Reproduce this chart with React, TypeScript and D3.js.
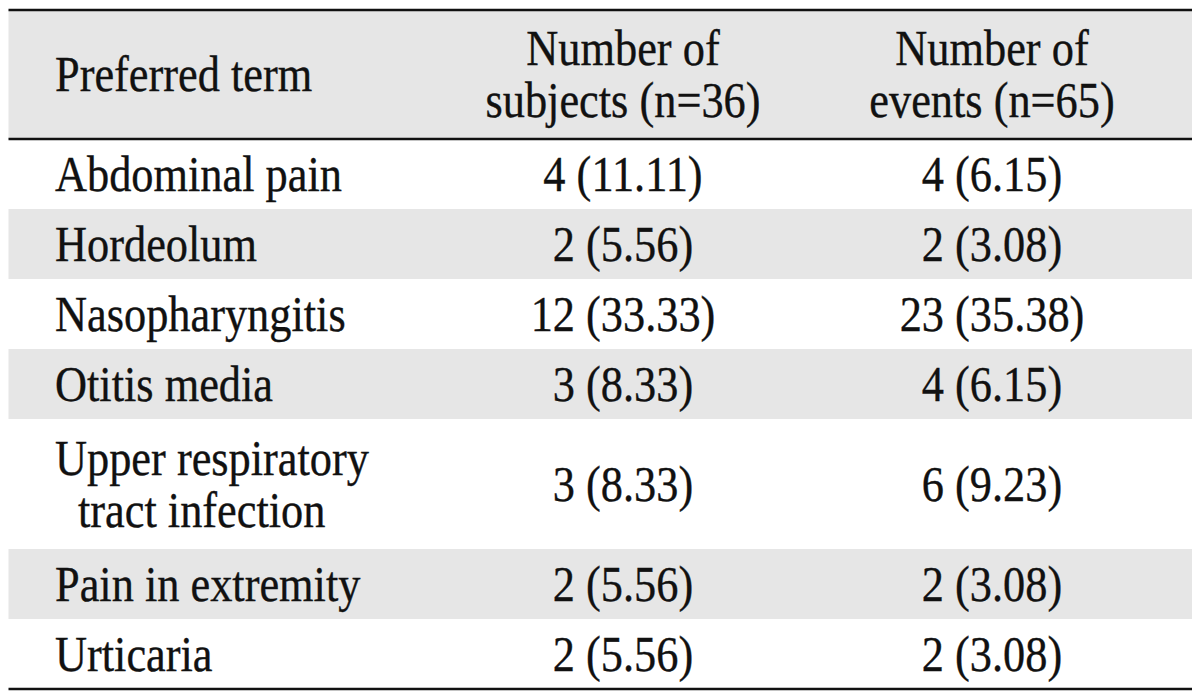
import React from "react";
import * as d3 from "d3";

const headerTerm = ["Preferred term"];
const headerSubjects = ["Number of", "subjects (n=36)"];
const headerEvents = ["Number of", "events (n=65)"];

const terms: string[][] = [
  ["Abdominal pain"],
  ["Hordeolum"],
  ["Nasopharyngitis"],
  ["Otitis media"],
  ["Upper respiratory", "tract infection"],
  ["Pain in extremity"],
  ["Urticaria"],
];
const subjectCounts = [4, 2, 12, 3, 3, 2, 2];
const subjectPct = [11.11, 5.56, 33.33, 8.33, 8.33, 5.56, 5.56];
const eventCounts = [4, 2, 23, 4, 6, 2, 2];
const eventPct = [6.15, 3.08, 35.38, 6.15, 9.23, 3.08, 3.08];

const W = 1200;
const H = 698;
const LEFT = 8.5;
const RIGHT = 1192;
const TOP = 10;
const HEADER_H = 129;
const ROW1 = 70;
const LINE_EXTRA = 60;
const LINE_GAP = 52;
const FONT = 50;
const SX = 0.887;
const GREY = "#e6e6e6";
const INK = "#111111";

const colX = { term: 55, subj: 623, evt: 992 };

function Txt({ x, y, anchor, children }: { x: number; y: number; anchor: string; children: React.ReactNode }) {
  return (
    <text
      transform={`translate(${x},${y}) scale(${SX},1)`}
      textAnchor={anchor}
      fontFamily="'Liberation Serif', 'Times New Roman', serif"
      fontSize={FONT}
      fill={INK}
      stroke={INK}
      strokeWidth={0.35}
    >
      {children}
    </text>
  );
}

function lines(x: number, cy: number, arr: string[], anchor: string, indent = 0) {
  const n = arr.length;
  return arr.map((s, i) => (
    <Txt key={i} x={x + (i > 0 ? indent : 0)} y={cy + 16.5 + (i - (n - 1) / 2) * LINE_GAP} anchor={anchor}>
      {s}
    </Txt>
  ));
}

export default function App() {
  const heights = terms.map((t) => ROW1 + (t.length - 1) * LINE_EXTRA);
  const ends = Array.from(d3.cumsum(heights));
  const bodyTop = TOP + HEADER_H;
  const starts = ends.map((e, i) => bodyTop + e - heights[i]);
  const bottom = bodyTop + ends[ends.length - 1];
  const fmt = d3.format(".2f");
  const headerCy = TOP + HEADER_H / 2;

  return (
    <svg width={W} height={H} style={{ position: "absolute", left: 0, top: 0, background: "#fff" }}>
      <rect x={0} y={0} width={W} height={H} fill="#fff" />
      <rect x={LEFT} y={TOP} width={RIGHT - LEFT} height={HEADER_H} fill={GREY} />
      {terms.map((t, i) =>
        i % 2 === 1 ? (
          <rect key={"bg" + i} x={LEFT} y={starts[i]} width={RIGHT - LEFT} height={heights[i]} fill={GREY} />
        ) : null
      )}
      {lines(colX.term, headerCy, headerTerm, "start")}
      {lines(colX.subj, headerCy, headerSubjects, "middle")}
      {lines(colX.evt, headerCy, headerEvents, "middle")}
      {terms.map((t, i) => {
        const cy = starts[i] + heights[i] / 2;
        return (
          <g key={"r" + i}>
            {lines(colX.term, cy, t, "start", 23)}
            {lines(colX.subj, cy, [`${subjectCounts[i]} (${fmt(subjectPct[i])})`], "middle")}
            {lines(colX.evt, cy, [`${eventCounts[i]} (${fmt(eventPct[i])})`], "middle")}
          </g>
        );
      })}
      <line x1={LEFT} x2={RIGHT} y1={TOP} y2={TOP} stroke={INK} strokeWidth={2.5} />
      <line x1={LEFT} x2={RIGHT} y1={bodyTop} y2={bodyTop} stroke={INK} strokeWidth={2.5} />
      <line x1={LEFT} x2={RIGHT} y1={bottom} y2={bottom} stroke={INK} strokeWidth={2.5} />
    </svg>
  );
}
